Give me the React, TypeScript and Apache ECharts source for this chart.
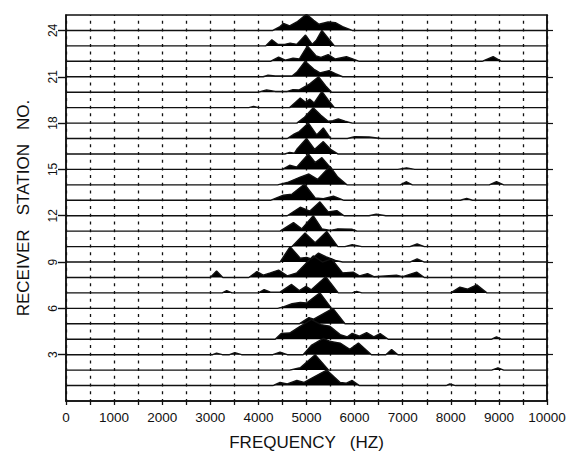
import React, { useEffect, useRef } from "react";
import * as echarts from "echarts";

// Tick labels
const FREQ_TICKS = [0, 1000, 2000, 3000, 4000, 5000, 6000, 7000, 8000, 9000, 10000];
const STATION_TICKS = [3, 6, 9, 12, 15, 18, 21, 24];

// Spectra: [frequency (Hz), amplitude (in station spacings)] per receiver station
const station1 = [[4300, 0], [4450, 0.2], [4600, 0.1], [4800, 0.33], [4950, 0.2], [5150, 0.55], [5420, 1.0], [5700, 0.2], [5830, 0.15], [5950, 0.33], [6100, 0], [7900, 0], [7980, 0.1], [8100, 0]];
const station2 = [[4650, 0], [4870, 0.15], [5180, 1.0], [5460, 0], [8850, 0], [8980, 0.15], [9100, 0]];
const station3 = [[3050, 0], [3130, 0.1], [3250, 0], [3400, 0], [3510, 0.13], [3650, 0], [4300, 0], [4450, 0.17], [4600, 0], [4930, 0], [5100, 0.6], [5350, 1.05], [5500, 0.85], [5700, 0.75], [5900, 0.35], [6080, 0.76], [6350, 0], [6650, 0], [6770, 0.33], [6900, 0]];
const station4 = [[4350, 0], [4480, 0.38], [4650, 0.4], [4850, 0.8], [5100, 1.28], [5300, 0.95], [5480, 0.85], [5700, 0.3], [5850, 0.15], [5950, 0.38], [6100, 0.2], [6250, 0.43], [6400, 0.15], [6530, 0.37], [6700, 0], [8850, 0], [8950, 0.15], [9050, 0]];
const station5 = [[4850, 0], [5050, 0.4], [5150, 0.3], [5550, 1.0], [5800, 0]];
const station6 = [[4400, 0], [4520, 0.1], [4700, 0.3], [4870, 0.38], [5000, 0.35], [5280, 1.0], [5520, 0]];
const station7 = [[3250, 0], [3340, 0.15], [3450, 0], [4000, 0], [4120, 0.22], [4250, 0.05], [4450, 0.05], [4690, 0.55], [4850, 0.15], [4990, 0.42], [5100, 0.2], [5400, 1.05], [5660, 0], [5950, 0], [6040, 0.1], [6150, 0], [8000, 0], [8190, 0.38], [8350, 0.25], [8540, 0.52], [8750, 0]];
const station8 = [[3000, 0], [3130, 0.42], [3260, 0], [3800, 0], [3970, 0.38], [4100, 0.15], [4250, 0.3], [4420, 0.48], [4600, 0.1], [4800, 0.3], [5140, 1.4], [5330, 1.0], [5520, 1.2], [5750, 0.3], [5970, 0.35], [6100, 0.1], [6270, 0.25], [6400, 0.05], [6870, 0.15], [7000, 0.05], [7290, 0.35], [7450, 0]];
const station9 = [[4450, 0], [4660, 1.0], [4870, 0.25], [5000, 0.3], [5100, 0.2], [5250, 0.58], [5400, 0.35], [5600, 0.1], [5750, 0], [7150, 0], [7300, 0.2], [7450, 0]];
const station10 = [[4700, 0], [4970, 0.88], [5180, 0.25], [5420, 0.98], [5650, 0], [5800, 0], [5950, 0.12], [6150, 0], [7150, 0], [7300, 0.17], [7450, 0]];
const station11 = [[4450, 0], [4730, 0.55], [4900, 0.15], [5140, 1.0], [5320, 0.15], [5500, 0.05], [5650, 0.15], [5950, 0.12], [6050, 0]];
const station12 = [[4600, 0], [4870, 0.55], [5070, 0.3], [5280, 0.9], [5450, 0.25], [5630, 0.33], [5780, 0], [6300, 0], [6450, 0.1], [6650, 0]];
const station13 = [[4250, 0], [4520, 0.33], [4700, 0.4], [4960, 1.05], [5180, 0.15], [5350, 0.1], [5560, 0.26], [5780, 0], [8200, 0], [8330, 0.12], [8450, 0]];
const station14 = [[4400, 0], [4600, 0.15], [4870, 0.5], [5050, 0.7], [5230, 0.35], [5490, 1.2], [5650, 0.5], [5840, 0], [6950, 0], [7080, 0.2], [7200, 0], [8800, 0], [8950, 0.2], [9100, 0]];
const station15 = [[4500, 0], [4650, 0.27], [4800, 0.15], [5040, 1.0], [5180, 0.45], [5320, 0.76], [5530, 0], [6900, 0], [7080, 0.1], [7250, 0]];
const station16 = [[4550, 0], [4650, 0.1], [4750, 0.05], [4800, 0.3], [5000, 1.0], [5170, 0.3], [5350, 0.8], [5500, 0.3], [5650, 0]];
const station17 = [[4600, 0], [4750, 0.3], [4850, 0.45], [5040, 1.0], [5200, 0.28], [5230, 0.3], [5350, 0.68], [5500, 0], [5850, 0], [6000, 0.12], [6300, 0.1], [6550, 0]];
const station18 = [[4800, 0], [4950, 0.35], [5140, 1.0], [5300, 0.5], [5450, 0.12], [5550, 0.15], [5660, 0.27], [5800, 0.12], [5950, 0]];
const station19 = [[3800, 0], [3900, 0.08], [4000, 0], [4650, 0], [4870, 0.62], [4980, 0.35], [5070, 0.55], [5160, 0.3], [5320, 1.05], [5450, 0.5], [5580, 0]];
const station20 = [[4000, 0], [4170, 0.15], [4350, 0.05], [4600, 0.05], [4720, 0.17], [4850, 0.15], [5050, 0.5], [5250, 1.0], [5400, 0.4], [5520, 0]];
const station21 = [[4100, 0], [4200, 0.1], [4350, 0.05], [4700, 0.05], [4800, 0.3], [4970, 1.0], [5150, 0.5], [5280, 0.25], [5470, 0.4], [5600, 0.2], [5750, 0]];
const station22 = [[4250, 0], [4420, 0.27], [4560, 0.08], [4720, 0.2], [4850, 0.15], [5020, 1.0], [5200, 0.35], [5300, 0.25], [5450, 0.43], [5600, 0.15], [5830, 0.3], [6100, 0], [8650, 0], [8880, 0.3], [9050, 0]];
const station23 = [[4150, 0], [4280, 0.4], [4400, 0.1], [4550, 0.1], [4660, 0.18], [4800, 0.1], [4980, 0.7], [5120, 0.1], [5200, 0.35], [5320, 1.0], [5450, 0.5], [5580, 0]];
const station24 = [[4300, 0], [4450, 0.25], [4520, 0.45], [4650, 0.3], [4800, 0.55], [5000, 1.05], [5150, 0.65], [5260, 0.4], [5450, 0.55], [5600, 0.5], [5750, 0.25], [5950, 0]];

const SPECTRA = [
  station1, station2, station3, station4, station5, station6, station7, station8,
  station9, station10, station11, station12, station13, station14, station15, station16,
  station17, station18, station19, station20, station21, station22, station23, station24,
];

const FREQ_MIN = 0;
const FREQ_MAX = 10000;
const FONT = "Liberation Sans";
const INK = "#111";

export default function App() {
  const ref = useRef<HTMLDivElement>(null);

  useEffect(() => {
    if (!ref.current) return;
    const chart = echarts.init(ref.current, null, { renderer: "svg" });

    const series: any[] = [];
    for (let i = SPECTRA.length - 1; i >= 0; i--) {
      const station = i + 1;
      const data = [
        [FREQ_MIN, station],
        ...SPECTRA[i].map(([f, a]) => [f, station + a]),
        [FREQ_MAX, station],
      ];
      series.push({
        type: "line",
        name: "Station " + station,
        data,
        symbol: "none",
        showSymbol: false,
        silent: true,
        z: 3,
        lineStyle: { color: INK, width: 1.4 },
        areaStyle: { color: "#000", opacity: 1, origin: station },
      });
    }

    chart.setOption({
      animation: false,
      backgroundColor: "#fff",
      grid: {
        left: 66,
        right: 35,
        top: 15,
        bottom: 56,
        show: true,
        borderColor: INK,
        borderWidth: 1.5,
        backgroundColor: "transparent",
      },
      xAxis: {
        type: "value",
        min: FREQ_MIN,
        max: FREQ_MAX,
        interval: 500,
        axisLine: { show: true, lineStyle: { color: INK, width: 1.5 } },
        axisTick: { show: true, length: 4, lineStyle: { color: INK, width: 1.3 } },
        axisLabel: {
          color: INK,
          fontFamily: FONT,
          fontSize: 13.5,
          margin: 9,
          formatter: (v: number) => (FREQ_TICKS.includes(v) ? String(v) : ""),
        },
        splitLine: {
          show: true,
          lineStyle: { color: INK, width: 1.3, type: [3, 4.72], dashOffset: 1.5 },
        },
        name: "FREQUENCY   (HZ)",
        nameLocation: "middle",
        nameGap: 33,
        nameTextStyle: { color: INK, fontFamily: FONT, fontSize: 17 },
      },
      yAxis: [
        {
          type: "value",
          position: "left",
          min: 0,
          max: 25,
          interval: 3,
          axisLine: { show: true, lineStyle: { color: INK, width: 1.5 } },
          axisTick: { show: true, length: 8, customValues: STATION_TICKS, lineStyle: { color: INK, width: 1.4 } },
          axisLabel: {
            customValues: STATION_TICKS,
            rotate: 90,
            margin: 7,
            color: INK,
            fontFamily: FONT,
            fontSize: 12,
            formatter: (v: number) => (STATION_TICKS.includes(v) ? String(v) : ""),
          },
          splitLine: { show: false },
          name: "RECEIVER   STATION   NO.",
          nameLocation: "middle",
          nameGap: 34,
          nameTextStyle: { color: INK, fontFamily: FONT, fontSize: 17 },
        },
        {
          type: "value",
          position: "right",
          min: 0,
          max: 25,
          interval: 3,
          axisLine: { show: true, lineStyle: { color: INK, width: 1.5 } },
          axisTick: { show: true, length: 6, customValues: STATION_TICKS, lineStyle: { color: INK, width: 1.2 } },
          axisLabel: { show: false },
          splitLine: { show: false },
        },
      ],
      series,
    });

    return () => chart.dispose();
  }, []);

  return (
    <div
      ref={ref}
      style={{ position: "fixed", left: 0, top: 0, width: 582, height: 457, background: "#fff" }}
    />
  );
}
